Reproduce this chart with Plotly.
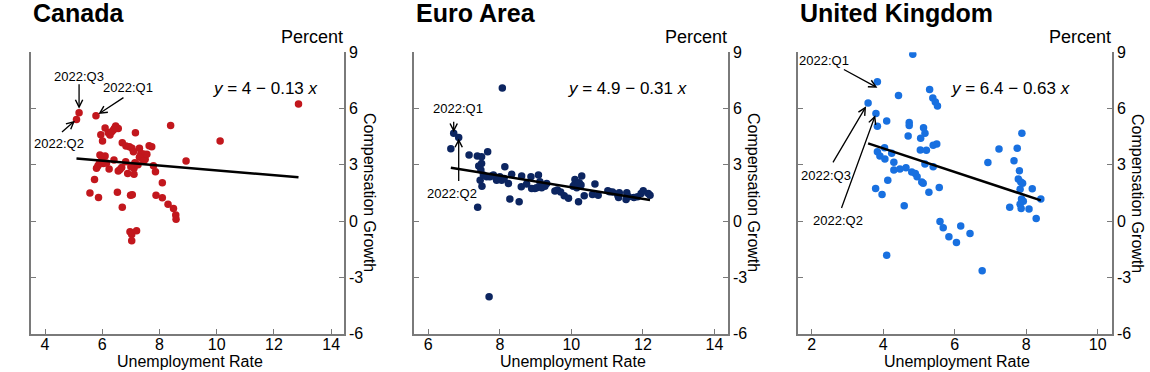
import plotly.graph_objects as go

# ---------------- data ----------------
can_x = [12.86, 10.12, 8.93, 8.39, 5.19, 5.10, 5.78,
         5.95, 6.01, 6.10, 6.21, 6.27, 6.33, 6.39, 6.47, 6.56, 6.43,
         6.70, 6.83, 6.95, 7.04, 7.09, 7.16, 7.30, 7.35, 7.44, 7.50, 7.64, 7.73, 7.79, 7.86,
         8.10, 7.88, 8.10, 8.30, 8.49, 8.57, 8.58,
         5.92, 5.98, 6.10, 6.04, 5.90, 5.80, 5.73, 5.57, 5.87, 6.24, 6.41, 6.56, 6.53, 6.70,
         6.82, 6.89, 6.99, 7.05, 7.11, 7.11, 7.14, 6.97, 7.03, 7.20, 7.03, 6.68,
         6.00, 6.15, 7.00, 7.30, 7.45, 6.62, 7.25, 5.85, 7.56]
can_y = [6.24, 4.27, 3.20, 5.09, 5.78, 5.42, 5.62,
         4.60, 4.27, 4.96, 4.71, 4.59, 4.76, 4.85, 5.07, 4.94, 4.95,
         4.18, 4.00, 3.96, 3.88, 3.70, 4.71, 3.88, 3.60, 3.57, 3.29, 4.02, 3.96, 2.95, 2.63,
         2.04, 1.38, 1.24, 0.89, 0.67, 0.32, 0.10,
         3.52, 3.43, 3.47, 3.07, 3.07, 2.81, 2.22, 1.49, 1.26, 2.77, 3.25, 2.67, 1.53, 0.73,
         3.16, 2.54, 1.38, 1.40, 2.81, 2.50, 3.11, -0.57, -0.72, -0.52, -1.05, 2.86,
         3.20, 3.10, 2.90, 3.40, 3.20, 2.75, 3.00, 2.95, 3.56]

ea_x = [8.07, 7.70, 6.63, 6.71, 6.85, 7.14,
        7.37, 7.49, 7.66, 7.41, 7.49, 7.47, 7.45, 7.50, 7.38, 8.14, 8.28, 8.54, 8.33, 8.24,
        8.61, 8.60, 8.75, 8.87, 9.08, 8.98, 9.12, 9.26, 9.31, 9.54, 9.61, 9.80, 9.92,
        10.10, 10.08, 10.15, 10.22, 10.29, 10.27, 10.20, 10.36, 10.59, 10.66, 10.75,
        11.02, 11.07, 11.30, 11.34, 11.32, 11.55, 11.53, 11.75, 11.95, 12.01, 12.15, 12.20,
        7.54, 7.63, 7.72, 7.82, 7.91, 8.00, 8.05, 8.12, 7.95, 7.77,
        8.89, 9.03, 9.17, 10.05, 10.18, 9.70, 11.15, 11.60, 11.85]
ea_y = [7.10, -4.04, 3.86, 4.68, 4.46, 3.52,
        3.47, 3.43, 3.70, 2.93, 3.07, 2.72, 2.18, 1.86, 0.73, 2.90, 1.17, 1.03, 2.50, 2.00,
        2.40, 1.83, 1.97, 2.36, 2.45, 1.74, 2.10, 1.86, 2.00, 1.60, 1.65, 1.35, 1.21,
        2.22, 1.92, 1.78, 2.04, 2.40, 1.92, 1.03, 1.35, 1.42, 1.97, 1.38,
        1.62, 1.56, 1.38, 1.51, 1.26, 1.51, 1.15, 1.26, 1.47, 1.62, 1.47, 1.38,
        2.45, 2.36, 2.36, 2.45, 2.18, 2.36, 2.18, 2.27, 2.30, 2.40,
        1.74, 1.78, 1.78, 1.85, 1.95, 1.55, 1.55, 1.30, 1.30]

uk_x = [4.83, 3.84, 3.58, 3.80,
        3.84, 4.10, 4.43, 5.30, 5.39, 5.46, 5.52, 4.73, 4.73, 4.70, 5.13, 5.17, 5.05, 5.04,
        5.21, 5.40, 5.50, 5.17, 5.40, 5.28, 5.57, 5.59, 5.68, 5.84, 6.05, 6.17, 6.43, 6.77,
        6.93, 7.24,
        3.84, 3.91, 4.05, 4.24, 4.30, 4.30, 4.47, 4.64, 4.80, 4.90, 4.95, 5.08, 5.12, 4.13,
        3.79, 3.97, 4.59, 4.10, 4.04,
        7.88, 7.75, 7.66, 7.81, 7.78, 7.90, 7.83, 8.17, 7.87, 7.92, 7.83, 7.86, 7.54, 8.08,
        8.28, 8.41, 7.85]
uk_y = [8.89, 7.43, 6.30, 5.74,
        5.05, 5.33, 6.70, 7.02, 6.56, 6.35, 6.14, 5.25, 5.10, 4.53, 4.98, 4.68, 4.41, 3.79,
        3.77, 4.04, 4.11, 3.04, 2.90, 1.54, 1.79, -0.02, -0.36, -0.84, -1.14, -0.27, -0.66, -2.65,
        3.12, 3.84,
        3.70, 3.47, 3.31, 3.61, 3.13, 2.72, 2.77, 2.84, 2.61, 2.54, 2.36, 2.08, 2.01, 2.18,
        1.74, 1.42, 0.81, -1.82, 3.91,
        4.68, 3.88, 3.22, 2.68, 2.24, 2.01, 1.69, 1.72, 1.17, 1.05, 0.90, 0.67, 0.73, 0.64,
        0.14, 1.17, 2.08]

panel_titles = ["Canada", "Euro Area", "United Kingdom"]
intercepts = [4.0, 4.9, 6.4]
slopes = [-0.13, -0.31, -0.63]
eq_labels = ["<i>y</i> = 4 \u2212 0.13 <i>x</i>",
             "<i>y</i> = 4.9 \u2212 0.31 <i>x</i>",
             "<i>y</i> = 6.4 \u2212 0.63 <i>x</i>"]
y_ticks = [-6, -3, 0, 3, 6, 9]
y_tick_text = ["-6", "-3", "0", "3", "6", "9"]
x_ticks = [[4, 6, 8, 10, 12, 14], [6, 8, 10, 12, 14], [2, 4, 6, 8, 10]]
x_title = "Unemployment Rate"
y_title = "Compensation Growth"
unit_label = "Percent"

# quarter labels: (panel, index of point, label)
quarter_points = [
    (0, 4, "2022:Q3"), (0, 6, "2022:Q1"), (0, 5, "2022:Q2"),
    (1, 3, "2022:Q1"), (1, 4, "2022:Q2"),
    (2, 1, "2022:Q1"), (2, 2, "2022:Q3"), (2, 3, "2022:Q2"),
]

# ---------------- style / layout ----------------
W, H = 1150, 372
FONT = "Liberation Sans, Arial, sans-serif"
colors = ["#c2171d", "#0c2560", "#1870e0"]
AXIS_COLOR = "#7a7a7a"
x_ranges = [[3.51, 14.45], [5.6, 14.38], [1.62, 10.4]]
x_px = [(31, 344), (414, 728), (798, 1112)]
y_px = (52.3, 333.5)

datasets = [(can_x, can_y), (ea_x, ea_y), (uk_x, uk_y)]

fig = go.Figure()

def px2paper(px, py):
    return px / W, 1 - py / H

for i, (xs, ys) in enumerate(datasets):
    n = "" if i == 0 else str(i + 1)
    xa, ya = "x" + n, "y" + n
    fig.add_trace(go.Scatter(x=xs, y=ys, mode="markers", xaxis=xa, yaxis=ya,
                             marker=dict(color=colors[i], size=7.5, line=dict(width=0)),
                             showlegend=False, hoverinfo="x+y"))
    x0, x1 = min(xs), max(xs)
    fig.add_trace(go.Scatter(x=[x0, x1],
                             y=[intercepts[i] + slopes[i] * x0, intercepts[i] + slopes[i] * x1],
                             mode="lines", xaxis=xa, yaxis=ya,
                             line=dict(color="black", width=2.5),
                             showlegend=False, hoverinfo="skip"))
    d0 = x_px[i][0] / W
    d1 = x_px[i][1] / W
    yd = [1 - y_px[1] / H, 1 - y_px[0] / H]
    fig.update_layout({
        "xaxis" + n: dict(domain=[d0, d1], range=x_ranges[i], anchor=ya, automargin=False,
                          tickvals=x_ticks[i], ticks="inside", ticklen=5, tickwidth=1.2,
                          tickcolor=AXIS_COLOR, showline=True, linecolor=AXIS_COLOR,
                          linewidth=1.5, showgrid=False, zeroline=False,
                          ticklabelstandoff=-4,
                          tickfont=dict(size=16, color="black", family=FONT)),
        "yaxis" + n: dict(domain=yd, range=[-6, 9], anchor=xa, side="right", automargin=False,
                          tickvals=y_ticks, ticktext=y_tick_text,
                          ticks="inside", ticklen=5, tickwidth=1.2, tickcolor=AXIS_COLOR,
                          showline=True, mirror="ticks", linecolor=AXIS_COLOR, linewidth=1.5,
                          showgrid=False, zeroline=False,
                          tickfont=dict(size=16, color="black", family=FONT)),
    })
    # panel title
    tx, ty = px2paper(x_px[i][0] + 0, 13)
    fig.add_annotation(x=tx, y=ty, xref="paper", yref="paper", text="<b>%s</b>" % panel_titles[i],
                       showarrow=False, xanchor="left", yanchor="middle",
                       font=dict(size=25, color="black", family=FONT))
    # Percent
    tx, ty = px2paper(x_px[i][1] + 1, 37)
    fig.add_annotation(x=tx, y=ty, xref="paper", yref="paper", text=unit_label,
                       showarrow=False, xanchor="right", yanchor="middle",
                       font=dict(size=18, color="black", family=FONT))
    # rotated y title
    tx, ty = px2paper(x_px[i][1] + 26, 193)
    fig.add_annotation(x=tx, y=ty, xref="paper", yref="paper", text=y_title, textangle=90,
                       showarrow=False, xanchor="center", yanchor="middle",
                       font=dict(size=16, color="black", family=FONT))
    # x title
    tx, ty = px2paper((x_px[i][0] + x_px[i][1]) / 2 + 2, 361)
    fig.add_annotation(x=tx, y=ty, xref="paper", yref="paper", text=x_title,
                       showarrow=False, xanchor="center", yanchor="middle",
                       font=dict(size=16, color="black", family=FONT))
    # equation
    eq_pos = [(265, 88), (627, 88), (1010, 88)][i]
    tx, ty = px2paper(*eq_pos)
    fig.add_annotation(x=tx, y=ty, xref="paper", yref="paper", text=eq_labels[i],
                       showarrow=False, xanchor="center", yanchor="middle",
                       font=dict(size=17, color="black", family=FONT))

# quarter annotations: arrows (ax, ay, standoff, yshift) and label centres (pixels)
arrow_geom = [(0, -30, 4, 0), (29, -19, 3, 0), (-16, 14, 2, 0),
              (0, -13, 1, 0), (0, 45, 1, 0),
              (-35, -19, 0, -6), (-36, 61, 4, 0), (-35, 96, 2, 0)]
label_pos = [(79, 76), (128, 87), (59, 143),
             (458, 109), (452, 193),
             (824, 61), (826, 175), (838, 220)]
for k, (p, idx, lab) in enumerate(quarter_points):
    xs, ys = datasets[p]
    n = "" if p == 0 else str(p + 1)
    ax, ay, so, ysh = arrow_geom[k]
    fig.add_annotation(x=xs[idx], y=ys[idx], xref="x" + n, yref="y" + n, text="",
                       showarrow=True, ax=ax, ay=ay, standoff=so, yshift=ysh,
                       arrowhead=5, arrowsize=1.1, arrowwidth=1.3, arrowcolor="black")
    tx, ty = px2paper(*label_pos[k])
    fig.add_annotation(x=tx, y=ty, xref="paper", yref="paper", text=lab, showarrow=False,
                       xanchor="center", yanchor="middle",
                       font=dict(size=13, color="black", family=FONT))

fig.update_layout(width=W, height=H, margin=dict(l=0, r=0, t=0, b=0),
                  paper_bgcolor="white", plot_bgcolor="white",
                  font=dict(family=FONT, color="black"))

fig.write_html("out.html", config={"displayModeBar": False},
               post_script="document.body.style.margin='0';document.body.style.overflow='hidden';")
